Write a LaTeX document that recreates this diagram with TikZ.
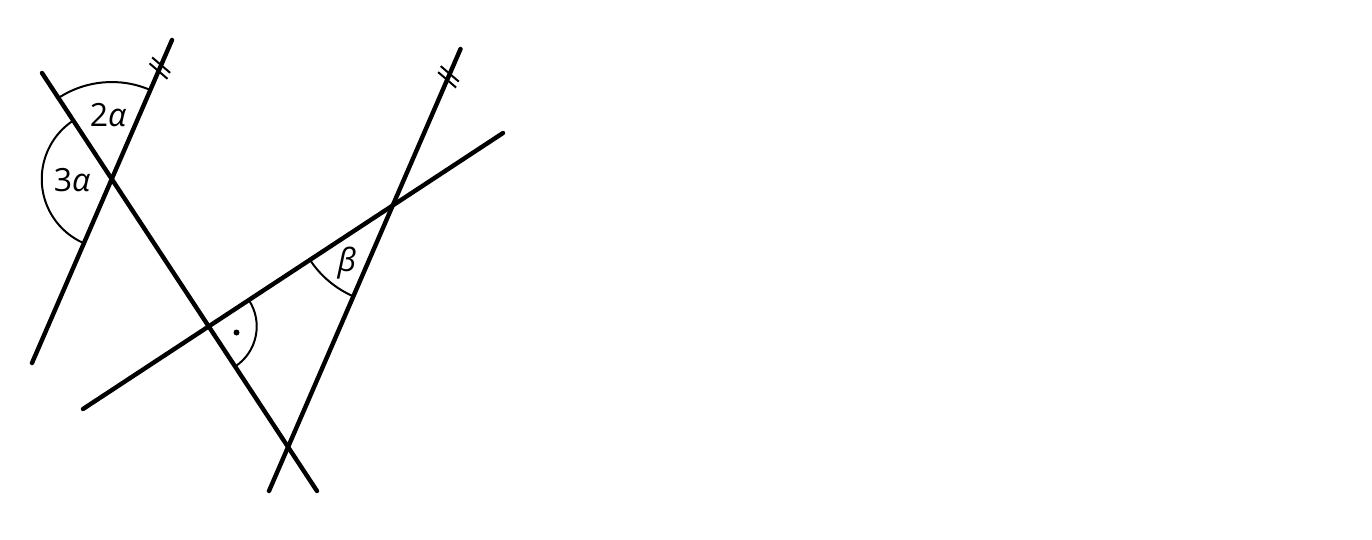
\documentclass[tikz,border=0pt]{standalone}
\usepackage{fontspec}
\setmainfont{Open Sans}
\usetikzlibrary{calc,angles}
\begin{document}
\begin{tikzpicture}[x=1pt,y=-1pt,
  mainline/.style={line width=4.4pt,line cap=round},
  thin/.style={line width=2pt},
  lbl/.style={font=\fontsize{32}{38}\selectfont,inner sep=0pt}]
\useasboundingbox (0,0) rectangle (1372,539);
% line endpoints
\coordinate (A1) at (32,363);  \coordinate (A2) at (172,40);
\coordinate (B1) at (42,73);   \coordinate (B2) at (317,491);
\coordinate (C1) at (269,491); \coordinate (C2) at (460.5,49);
\coordinate (D1) at (83,409);  \coordinate (D2) at (503,133);
% intersections
\coordinate (O) at (intersection of A1--A2 and B1--B2);
\coordinate (P) at (intersection of B1--B2 and D1--D2);
\coordinate (Q) at (intersection of C1--C2 and D1--D2);
% angle arcs
\pic[draw,thin,angle radius=97pt] {angle=A2--O--B1};
\pic[draw,thin,angle radius=70pt] {angle=B1--O--A1};
\pic[draw,thin,angle radius=48pt] {angle=B2--P--D2};
\pic[draw,thin,angle radius=99pt] {angle=D1--Q--C1};
% lines
\draw[mainline] (A1) -- (A2);
\draw[mainline] (B1) -- (B2);
\draw[mainline] (C1) -- (C2);
\draw[mainline] (D1) -- (D2);
% parallel ticks
\coordinate (mA) at ($(A1)!0.913!(A2)$);
\coordinate (mC) at ($(C1)!0.937!(C2)$);
\foreach \m in {mA,mC}{
  \foreach \s in {-1,1}{
    \draw[thin] ($(\m)+(\s*1.3,-\s*3.0)+(-9,-7.7)$) -- ($(\m)+(\s*1.3,-\s*3.0)+(9,7.7)$);
  }
}
% right angle dot
\fill (236.5,332.5) circle (3);
% labels
\node[lbl] (l2a) at (108,115) {2\itshape α};
\node[lbl] (l3a) at (72,180) {3\itshape α};
\node[lbl] (lb) at (347,263) {\itshape β};
\end{tikzpicture}
\end{document}
